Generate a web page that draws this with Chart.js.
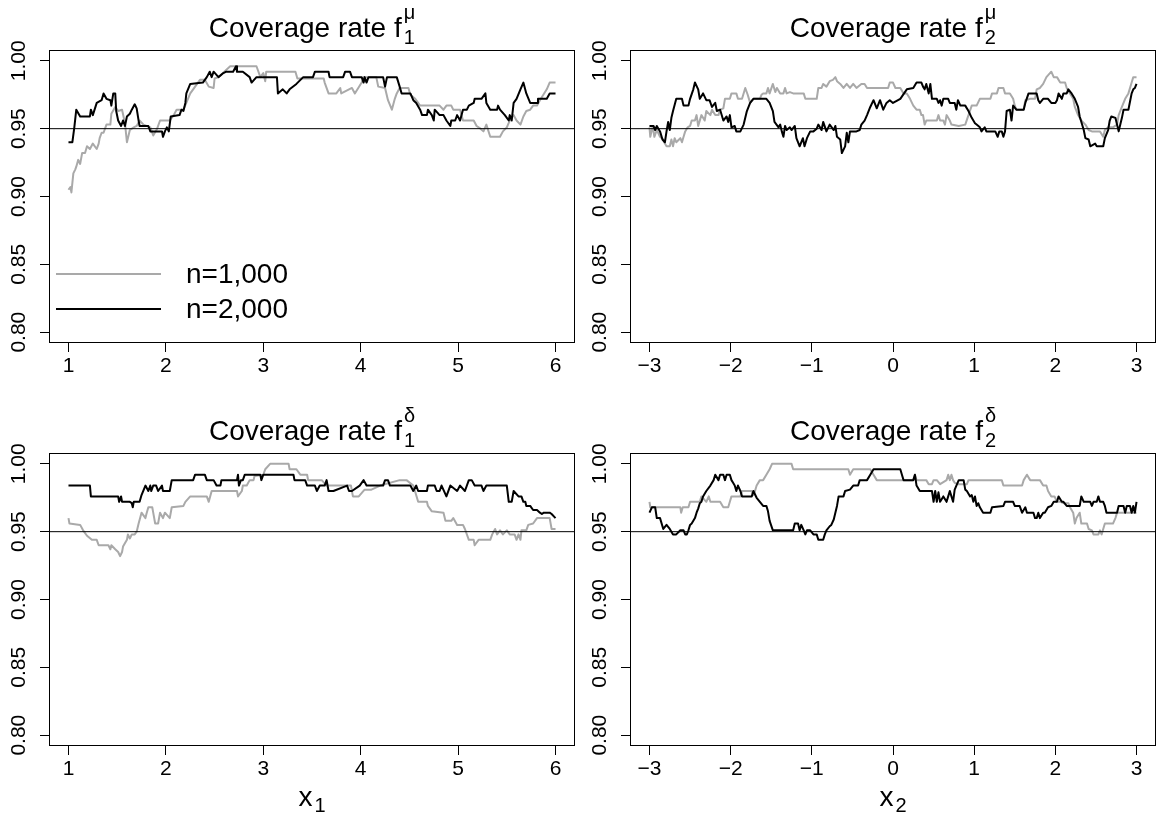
<!DOCTYPE html>
<html>
<head>
<meta charset="utf-8">
<script src="https://cdn.jsdelivr.net/npm/chart.js@4.4.0/dist/chart.umd.min.js"></script>
<style>
  html, body { margin: 0; padding: 0; background: #fff; }
  #page { position: relative; width: 1158px; height: 814px; overflow: hidden; }
  #page canvas { position: absolute; }
</style>
</head>
<body>
<div id="page">
  <canvas id="c1" width="579" height="411" style="left:0;top:0"></canvas>
  <canvas id="c2" width="579" height="411" style="left:581px;top:0"></canvas>
  <canvas id="c3" width="579" height="411" style="left:0;top:403px"></canvas>
  <canvas id="c4" width="579" height="411" style="left:581px;top:403px"></canvas>
</div>
<script>
// ---- data: [x, coverage rate] ----
const seriesLabels = ['n=1,000', 'n=2,000'];
const yTicks = [0.80, 0.85, 0.90, 0.95, 1.00];
const x1Ticks = [1, 2, 3, 4, 5, 6];
const x2Ticks = [-3, -2, -1, 0, 1, 2, 3];
const yRange = [0.80, 1.00];
const x1Range = [1, 6];
const x2Range = [-3, 3];
const refLevel = 0.95;

// f1 mu
const mu1N1000 = [[1.00,.905],[1.02,.907],[1.03,.903],[1.05,.917],[1.07,.920],[1.08,.922],[1.10,.927],[1.12,.924],[1.14,.932],[1.17,.932],[1.19,.937],[1.22,.935],[1.25,.939],[1.29,.935],[1.31,.939],[1.32,.943],[1.34,.947],[1.36,.947],[1.39,.953],[1.43,.953],[1.44,.961],[1.48,.966],[1.51,.963],[1.55,.964],[1.58,.954],[1.60,.940],[1.63,.949],[1.67,.951],[1.70,.952],[1.73,.956],[1.77,.953],[1.84,.951],[1.87,.945],[1.91,.950],[1.94,.956],[2.04,.956],[2.08,.960],[2.11,.964],[2.18,.964],[2.21,.969],[2.25,.976],[2.28,.979],[2.32,.983],[2.35,.986],[2.40,.986],[2.44,.981],[2.49,.980],[2.50,.987],[2.54,.988],[2.66,.996],[2.93,.996],[2.97,.988],[3.00,.991],[3.02,.985],[3.03,.992],[3.33,.992],[3.35,.987],[3.62,.987],[3.63,.984],[3.67,.976],[3.75,.976],[3.79,.980],[3.80,.976],[3.91,.980],[3.94,.976],[4.01,.984],[4.03,.988],[4.16,.988],[4.18,.981],[4.25,.980],[4.28,.971],[4.32,.964],[4.35,.972],[4.37,.976],[4.40,.980],[4.49,.980],[4.51,.975],[4.56,.972],[4.61,.967],[4.81,.967],[4.85,.964],[4.88,.967],[4.93,.967],[4.95,.964],[5.02,.964],[5.05,.956],[5.16,.956],[5.19,.952],[5.23,.950],[5.26,.948],[5.29,.953],[5.33,.944],[5.43,.944],[5.46,.948],[5.50,.951],[5.53,.956],[5.57,.960],[5.60,.956],[5.64,.953],[5.67,.959],[5.70,.963],[5.74,.964],[5.77,.967],[5.81,.967],[5.84,.971],[5.91,.979],[5.94,.984],[6.00,.984]];
const mu1N2000 = [[1.00,.940],[1.04,.940],[1.06,.951],[1.08,.964],[1.12,.959],[1.22,.959],[1.23,.964],[1.25,.960],[1.29,.969],[1.34,.971],[1.36,.976],[1.39,.972],[1.43,.971],[1.44,.967],[1.46,.976],[1.48,.976],[1.49,.963],[1.51,.956],[1.54,.952],[1.56,.956],[1.58,.952],[1.60,.959],[1.63,.961],[1.65,.964],[1.68,.968],[1.70,.965],[1.72,.956],[1.73,.952],[1.82,.952],[1.84,.948],[1.96,.948],[1.97,.944],[1.99,.948],[2.01,.951],[2.03,.948],[2.05,.959],[2.14,.960],[2.16,.964],[2.18,.963],[2.20,.969],[2.21,.976],[2.25,.983],[2.38,.984],[2.42,.988],[2.45,.992],[2.47,.988],[2.49,.992],[2.54,.988],[2.59,.991],[2.62,.992],[2.69,.992],[2.72,.996],[2.73,.992],[2.79,.992],[2.86,.988],[2.88,.984],[2.93,.988],[3.14,.988],[3.15,.976],[3.20,.979],[3.24,.976],[3.27,.979],[3.34,.983],[3.41,.988],[3.51,.988],[3.53,.992],[3.67,.992],[3.68,.988],[3.82,.988],[3.84,.992],[3.89,.992],[3.91,.988],[4.01,.988],[4.03,.984],[4.04,.988],[4.06,.984],[4.08,.988],[4.23,.988],[4.25,.981],[4.27,.988],[4.37,.988],[4.40,.981],[4.42,.976],[4.51,.976],[4.54,.971],[4.57,.969],[4.61,.964],[4.63,.960],[4.68,.960],[4.69,.964],[4.73,.960],[4.75,.956],[4.76,.964],[4.81,.960],[4.85,.960],[4.88,.956],[4.92,.952],[4.93,.956],[4.97,.956],[4.99,.960],[5.02,.956],[5.05,.964],[5.09,.964],[5.11,.967],[5.16,.969],[5.17,.972],[5.24,.972],[5.28,.976],[5.29,.969],[5.33,.964],[5.40,.964],[5.41,.967],[5.43,.964],[5.48,.960],[5.52,.956],[5.53,.960],[5.55,.956],[5.57,.969],[5.60,.972],[5.64,.979],[5.67,.984],[5.70,.976],[5.74,.969],[5.81,.969],[5.82,.972],[5.91,.972],[5.94,.976],[6.00,.976]];

// f2 mu
const mu2N1000 = [[-3.00,.951],[-2.99,.944],[-2.96,.952],[-2.94,.944],[-2.91,.949],[-2.87,.944],[-2.83,.942],[-2.81,.939],[-2.79,.937],[-2.75,.937],[-2.73,.942],[-2.71,.937],[-2.69,.943],[-2.67,.940],[-2.62,.943],[-2.60,.940],[-2.58,.944],[-2.56,.948],[-2.53,.951],[-2.50,.952],[-2.48,.956],[-2.44,.956],[-2.42,.960],[-2.40,.952],[-2.36,.960],[-2.32,.956],[-2.30,.963],[-2.25,.960],[-2.23,.964],[-2.19,.960],[-2.15,.960],[-2.13,.964],[-2.09,.965],[-2.07,.972],[-2.01,.972],[-1.99,.976],[-1.93,.976],[-1.91,.972],[-1.86,.972],[-1.82,.980],[-1.79,.975],[-1.76,.969],[-1.72,.972],[-1.64,.972],[-1.62,.975],[-1.60,.976],[-1.56,.976],[-1.54,.980],[-1.52,.976],[-1.48,.983],[-1.45,.977],[-1.43,.980],[-1.39,.976],[-1.35,.976],[-1.33,.980],[-1.31,.976],[-1.27,.977],[-1.23,.976],[-1.10,.976],[-1.08,.972],[-0.94,.972],[-0.92,.980],[-0.88,.980],[-0.86,.983],[-0.82,.981],[-0.78,.985],[-0.74,.986],[-0.71,.988],[-0.69,.985],[-0.65,.983],[-0.61,.980],[-0.57,.983],[-0.53,.980],[-0.49,.983],[-0.45,.980],[-0.39,.983],[-0.35,.983],[-0.32,.980],[-0.06,.980],[-0.04,.984],[0.00,.984],[0.03,.980],[0.09,.980],[0.13,.976],[0.17,.976],[0.21,.972],[0.25,.967],[0.29,.964],[0.33,.964],[0.35,.960],[0.37,.960],[0.39,.953],[0.41,.956],[0.54,.956],[0.56,.960],[0.58,.956],[0.62,.956],[0.64,.953],[0.66,.960],[0.70,.956],[0.72,.953],[0.81,.952],[0.89,.953],[0.93,.960],[0.97,.967],[1.03,.967],[1.07,.972],[1.20,.972],[1.22,.976],[1.28,.976],[1.30,.980],[1.36,.980],[1.38,.976],[1.44,.976],[1.48,.972],[1.50,.967],[1.52,.964],[1.61,.964],[1.63,.971],[1.69,.972],[1.75,.972],[1.77,.979],[1.81,.980],[1.85,.983],[1.89,.988],[1.95,.992],[1.98,.988],[2.02,.988],[2.06,.984],[2.12,.984],[2.14,.980],[2.18,.976],[2.22,.972],[2.24,.966],[2.28,.960],[2.32,.956],[2.37,.953],[2.41,.949],[2.45,.948],[2.55,.948],[2.59,.944],[2.61,.949],[2.65,.951],[2.71,.951],[2.76,.953],[2.78,.960],[2.82,.966],[2.86,.972],[2.90,.976],[2.94,.984],[2.96,.988],[3.00,.988]];
const mu2N2000 = [[-3.00,.952],[-2.95,.952],[-2.93,.949],[-2.91,.952],[-2.87,.948],[-2.84,.942],[-2.81,.940],[-2.79,.948],[-2.77,.955],[-2.75,.949],[-2.73,.958],[-2.71,.963],[-2.67,.972],[-2.60,.972],[-2.58,.967],[-2.52,.967],[-2.50,.972],[-2.46,.979],[-2.44,.984],[-2.40,.979],[-2.38,.972],[-2.34,.976],[-2.30,.971],[-2.26,.971],[-2.23,.966],[-2.19,.969],[-2.17,.963],[-2.13,.964],[-2.09,.956],[-2.05,.959],[-2.03,.955],[-2.01,.960],[-1.99,.951],[-1.95,.952],[-1.93,.948],[-1.88,.948],[-1.84,.953],[-1.80,.963],[-1.76,.969],[-1.72,.972],[-1.56,.972],[-1.52,.969],[-1.48,.963],[-1.46,.955],[-1.41,.951],[-1.39,.953],[-1.37,.948],[-1.35,.944],[-1.33,.952],[-1.31,.949],[-1.27,.951],[-1.25,.949],[-1.21,.952],[-1.19,.943],[-1.15,.937],[-1.11,.943],[-1.09,.937],[-1.06,.943],[-1.02,.948],[-0.98,.948],[-0.94,.950],[-0.92,.953],[-0.88,.949],[-0.86,.955],[-0.82,.948],[-0.78,.953],[-0.73,.949],[-0.71,.952],[-0.69,.944],[-0.65,.942],[-0.63,.932],[-0.59,.937],[-0.57,.947],[-0.55,.940],[-0.53,.948],[-0.45,.948],[-0.41,.949],[-0.39,.953],[-0.35,.956],[-0.32,.960],[-0.28,.966],[-0.24,.971],[-0.20,.965],[-0.16,.971],[-0.12,.964],[-0.08,.969],[-0.04,.971],[0.00,.969],[0.09,.972],[0.17,.979],[0.25,.980],[0.29,.984],[0.35,.984],[0.37,.981],[0.39,.979],[0.41,.983],[0.44,.976],[0.46,.983],[0.48,.972],[0.54,.972],[0.56,.969],[0.58,.971],[0.60,.967],[0.62,.972],[0.68,.972],[0.70,.969],[0.76,.969],[0.78,.964],[0.80,.971],[0.83,.967],[0.89,.967],[0.93,.963],[0.97,.958],[1.01,.954],[1.03,.953],[1.07,.951],[1.09,.948],[1.13,.951],[1.15,.948],[1.26,.948],[1.29,.944],[1.31,.948],[1.34,.948],[1.36,.944],[1.38,.948],[1.40,.963],[1.44,.964],[1.46,.956],[1.48,.967],[1.52,.964],[1.61,.964],[1.63,.969],[1.67,.976],[1.77,.976],[1.79,.971],[1.81,.969],[1.85,.972],[1.91,.972],[1.95,.969],[2.00,.969],[2.02,.971],[2.04,.976],[2.08,.972],[2.10,.976],[2.14,.976],[2.16,.979],[2.20,.976],[2.24,.972],[2.28,.966],[2.30,.959],[2.35,.949],[2.37,.943],[2.41,.942],[2.43,.937],[2.49,.939],[2.51,.937],[2.59,.937],[2.61,.943],[2.65,.949],[2.67,.956],[2.69,.959],[2.74,.958],[2.76,.953],[2.78,.948],[2.80,.953],[2.82,.958],[2.84,.964],[2.90,.964],[2.92,.970],[2.94,.976],[2.96,.979],[2.98,.980],[3.00,.983]];

// f1 delta
const de1N1000 = [[1.00,.960],[1.01,.956],[1.12,.955],[1.15,.951],[1.19,.947],[1.24,.944],[1.29,.944],[1.31,.940],[1.41,.940],[1.43,.937],[1.44,.940],[1.48,.937],[1.51,.935],[1.53,.932],[1.55,.935],[1.56,.939],[1.60,.944],[1.61,.948],[1.63,.945],[1.65,.948],[1.68,.948],[1.70,.950],[1.72,.956],[1.75,.964],[1.79,.960],[1.80,.963],[1.82,.968],[1.86,.968],[1.87,.964],[1.89,.956],[1.92,.956],[1.94,.964],[1.97,.960],[1.99,.964],[2.04,.960],[2.06,.968],[2.18,.969],[2.20,.972],[2.25,.976],[2.42,.976],[2.44,.972],[2.47,.980],[2.73,.980],[2.74,.976],[2.78,.980],[2.79,.984],[2.83,.984],[2.86,.988],[2.90,.988],[2.91,.991],[3.00,.992],[3.02,.996],[3.07,1.000],[3.26,1.000],[3.27,.996],[3.34,.996],[3.38,.992],[3.45,.992],[3.46,.988],[3.60,.988],[3.65,.984],[3.90,.984],[3.92,.976],[3.98,.976],[4.04,.981],[4.11,.981],[4.20,.984],[4.40,.988],[4.47,.988],[4.54,.984],[4.59,.972],[4.68,.972],[4.69,.969],[4.73,.965],[4.85,.964],[4.87,.958],[4.93,.958],[4.95,.960],[4.99,.955],[5.05,.955],[5.07,.952],[5.11,.944],[5.16,.944],[5.17,.940],[5.21,.944],[5.33,.944],[5.35,.948],[5.38,.952],[5.40,.948],[5.43,.951],[5.46,.948],[5.50,.951],[5.53,.948],[5.58,.948],[5.60,.944],[5.62,.948],[5.64,.944],[5.65,.951],[5.70,.951],[5.72,.955],[5.77,.956],[5.81,.960],[5.94,.960],[5.96,.952],[6.00,.952]];
const de1N2000 = [[1.00,.984],[1.22,.984],[1.23,.976],[1.51,.976],[1.52,.972],[1.54,.976],[1.55,.972],[1.60,.972],[1.63,.972],[1.65,.971],[1.66,.968],[1.67,.972],[1.70,.972],[1.73,.972],[1.75,.977],[1.79,.984],[1.82,.980],[1.84,.984],[1.85,.980],[1.87,.984],[1.90,.984],[1.92,.980],[1.96,.984],[1.97,.980],[2.04,.980],[2.06,.988],[2.28,.988],[2.30,.992],[2.40,.992],[2.42,.988],[2.49,.988],[2.52,.984],[2.56,.984],[2.57,.988],[2.73,.988],[2.74,.992],[2.75,.984],[2.77,.988],[2.79,.988],[2.81,.992],[2.97,.992],[2.98,.988],[3.00,.992],[3.31,.992],[3.32,.988],[3.43,.988],[3.45,.984],[3.53,.984],[3.55,.980],[3.58,.984],[3.63,.984],[3.65,.988],[3.67,.980],[3.72,.980],[3.86,.984],[3.88,.980],[3.91,.980],[3.99,.984],[4.03,.988],[4.06,.984],[4.23,.984],[4.25,.988],[4.28,.988],[4.30,.984],[4.51,.984],[4.54,.980],[4.57,.984],[4.59,.980],[4.68,.980],[4.69,.984],[4.76,.984],[4.78,.980],[4.81,.980],[4.83,.984],[4.88,.976],[4.92,.984],[4.99,.980],[5.02,.984],[5.07,.980],[5.11,.988],[5.14,.988],[5.17,.984],[5.24,.984],[5.26,.980],[5.29,.984],[5.50,.984],[5.52,.972],[5.55,.972],[5.57,.980],[5.62,.976],[5.65,.976],[5.67,.972],[5.69,.972],[5.70,.969],[5.74,.969],[5.77,.966],[5.81,.966],[5.84,.964],[5.86,.963],[5.88,.964],[5.94,.964],[5.96,.963],[6.00,.960]];

// f2 delta
const de2N1000 = [[-3.00,.972],[-2.99,.968],[-2.62,.968],[-2.61,.964],[-2.59,.968],[-2.52,.968],[-2.50,.972],[-2.38,.972],[-2.36,.976],[-2.30,.972],[-2.27,.976],[-2.25,.972],[-2.13,.972],[-2.09,.968],[-2.03,.968],[-2.01,.972],[-1.99,.976],[-1.88,.976],[-1.86,.980],[-1.74,.980],[-1.72,.977],[-1.70,.980],[-1.68,.984],[-1.64,.988],[-1.60,.988],[-1.56,.992],[-1.52,.996],[-1.49,1.000],[-1.25,1.000],[-1.23,.996],[-0.55,.996],[-0.53,.992],[-0.49,.996],[-0.28,.996],[-0.24,.992],[-0.20,.988],[0.25,.988],[0.27,.992],[0.29,.988],[0.41,.988],[0.44,.985],[0.48,.985],[0.50,.988],[0.54,.988],[0.58,.985],[0.66,.988],[0.68,.992],[0.70,.988],[0.72,.992],[0.74,.988],[0.76,.986],[0.81,.985],[0.91,.985],[0.93,.988],[1.34,.988],[1.36,.984],[1.59,.984],[1.61,.988],[1.65,.992],[1.69,.988],[1.81,.988],[1.85,.984],[1.89,.984],[1.91,.980],[1.95,.976],[1.99,.976],[2.02,.972],[2.06,.972],[2.10,.971],[2.16,.971],[2.18,.968],[2.22,.964],[2.24,.956],[2.26,.960],[2.30,.964],[2.32,.956],[2.39,.956],[2.41,.952],[2.45,.951],[2.47,.948],[2.53,.948],[2.55,.951],[2.57,.948],[2.59,.952],[2.61,.956],[2.71,.956],[2.74,.960],[2.76,.964],[3.00,.964]];
const de2N2000 = [[-3.00,.964],[-2.97,.968],[-2.93,.968],[-2.91,.960],[-2.87,.960],[-2.83,.952],[-2.79,.955],[-2.75,.952],[-2.71,.948],[-2.67,.948],[-2.62,.951],[-2.58,.951],[-2.56,.948],[-2.54,.948],[-2.52,.951],[-2.50,.955],[-2.48,.956],[-2.44,.960],[-2.42,.964],[-2.40,.967],[-2.38,.971],[-2.36,.972],[-2.34,.976],[-2.30,.980],[-2.25,.984],[-2.21,.988],[-2.19,.992],[-2.15,.988],[-2.13,.992],[-2.09,.992],[-2.07,.988],[-2.05,.992],[-2.01,.992],[-1.99,.988],[-1.97,.986],[-1.95,.984],[-1.93,.980],[-1.91,.984],[-1.88,.980],[-1.86,.976],[-1.74,.976],[-1.72,.980],[-1.68,.975],[-1.64,.972],[-1.60,.969],[-1.56,.969],[-1.54,.965],[-1.52,.958],[-1.48,.951],[-1.23,.951],[-1.21,.956],[-1.17,.956],[-1.15,.951],[-1.13,.955],[-1.10,.951],[-1.08,.948],[-1.06,.951],[-1.02,.951],[-0.98,.948],[-0.94,.948],[-0.92,.944],[-0.86,.944],[-0.84,.948],[-0.82,.951],[-0.78,.954],[-0.76,.955],[-0.73,.959],[-0.69,.969],[-0.67,.976],[-0.61,.976],[-0.59,.980],[-0.53,.981],[-0.49,.984],[-0.43,.984],[-0.41,.988],[-0.32,.988],[-0.28,.992],[-0.24,.996],[0.09,.996],[0.11,.992],[0.13,.988],[0.25,.988],[0.27,.992],[0.29,.984],[0.33,.980],[0.48,.980],[0.50,.972],[0.52,.980],[0.54,.972],[0.56,.979],[0.58,.972],[0.62,.976],[0.66,.972],[0.68,.976],[0.70,.980],[0.72,.976],[0.74,.972],[0.76,.981],[0.81,.988],[0.87,.988],[0.89,.981],[0.91,.980],[0.95,.976],[0.97,.977],[0.99,.972],[1.01,.976],[1.03,.969],[1.05,.971],[1.07,.968],[1.11,.964],[1.20,.964],[1.22,.968],[1.36,.969],[1.38,.972],[1.48,.972],[1.50,.969],[1.56,.969],[1.59,.964],[1.63,.968],[1.65,.964],[1.73,.964],[1.75,.960],[1.77,.960],[1.79,.964],[1.81,.960],[1.85,.964],[1.87,.964],[1.91,.968],[1.95,.969],[1.98,.972],[2.02,.972],[2.04,.976],[2.08,.972],[2.10,.972],[2.14,.969],[2.30,.969],[2.32,.976],[2.35,.972],[2.43,.972],[2.45,.969],[2.47,.972],[2.51,.972],[2.53,.976],[2.55,.972],[2.59,.972],[2.61,.969],[2.63,.964],[2.76,.964],[2.78,.969],[2.84,.969],[2.86,.964],[2.88,.969],[2.92,.969],[2.94,.964],[2.96,.969],[2.98,.964],[3.00,.972]];

// ---- drawing ----
const FONT = '"Liberation Sans", Arial, Helvetica, sans-serif';
const GRAY = '#a9a9a9';
const BOX_LEFT = 49, BOX_TOP = 50, BOX_BOTTOM = 343, PAD_RIGHT = 4;
const BIG = 28, TICK = 21;

function pts(arr) { return arr.map(p => ({ x: p[0], y: p[1] })); }
function fmtTick(v) { return v < 0 ? '\u2212' + Math.abs(v) : String(v); }

// box around the plot region
const boxPlugin = {
  id: 'rBox',
  afterDraw(chart) {
    const a = chart.chartArea, ctx = chart.ctx;
    ctx.save();
    ctx.strokeStyle = '#000';
    ctx.lineWidth = 1;
    ctx.strokeRect(Math.round(a.left) + 0.5, Math.round(a.top) + 0.5,
                   Math.round(a.right - a.left) - 1, Math.round(a.bottom - a.top) - 1);
    ctx.restore();
  }
};

// title and x label with sub/superscripts, R plotmath style
const mathTextPlugin = {
  id: 'rMath',
  afterDraw(chart, args, opts) {
    const ctx = chart.ctx, a = chart.chartArea;
    const cx = (a.left + a.right) / 2;
    function put(main, sub, sup, size, base, subDy, supDy) {
      ctx.font = size + 'px ' + FONT;
      const wMain = ctx.measureText(main).width;
      const small = Math.round(size * 0.7);
      ctx.font = small + 'px ' + FONT;
      const wSub = sub ? ctx.measureText(sub).width : 0;
      const wSup = sup ? ctx.measureText(sup).width : 0;
      const gap = 2;
      const x0 = cx - (wMain + gap + Math.max(wSub, wSup)) / 2;
      ctx.font = size + 'px ' + FONT;
      ctx.fillText(main, x0, base);
      ctx.font = small + 'px ' + FONT;
      if (sub) ctx.fillText(sub, x0 + wMain + gap, base + subDy);
      if (sup) ctx.fillText(sup, x0 + wMain + gap, base - supDy);
    }
    ctx.save();
    ctx.fillStyle = '#000';
    ctx.textAlign = 'left';
    ctx.textBaseline = 'alphabetic';
    put(opts.title[0], opts.title[1], opts.title[2], BIG, 37, 7, 18);
    if (opts.xlab) put(opts.xlab[0], opts.xlab[1], null, BIG, a.bottom + 60, 6, 0);
    ctx.restore();
  }
};

// legend with no box, drawn inside the first panel
const legendPlugin = {
  id: 'rLegend',
  afterDraw(chart, args, opts) {
    if (!opts.show) return;
    const ctx = chart.ctx, a = chart.chartArea;
    const rows = [2, 1];   // dataset indices: n=1,000 then n=2,000
    ctx.save();
    ctx.font = BIG + 'px ' + FONT;
    ctx.textAlign = 'left';
    ctx.textBaseline = 'middle';
    rows.forEach((di, i) => {
      const ds = chart.data.datasets[di];
      const y = a.top + 224 + i * 35;
      ctx.strokeStyle = ds.borderColor;
      ctx.lineWidth = ds.borderWidth;
      ctx.beginPath();
      ctx.moveTo(a.left + 7, y);
      ctx.lineTo(a.left + 112, y);
      ctx.stroke();
      ctx.fillStyle = '#000';
      ctx.fillText(ds.label, a.left + 137, y + 1);
    });
    ctx.restore();
  }
};

function makeChart(id, n1000, n2000, xRange, xTicks, title, xlab, legend) {
  const canvas = document.getElementById(id);
  const H = canvas.height;
  const xPad = (xRange[1] - xRange[0]) * 0.04;
  const yPad = (yRange[1] - yRange[0]) * 0.04;
  const tickFont = { family: FONT, size: TICK };
  return new Chart(canvas.getContext('2d'), {
    type: 'line',
    data: {
      datasets: [
        { label: 'ref', data: [{ x: xRange[0] - xPad, y: refLevel }, { x: xRange[1] + xPad, y: refLevel }],
          borderColor: '#000', borderWidth: 1, pointRadius: 0 },
        { label: seriesLabels[1], data: pts(n2000), borderColor: '#000', borderWidth: 2, pointRadius: 0 },
        { label: seriesLabels[0], data: pts(n1000), borderColor: GRAY, borderWidth: 2, pointRadius: 0 }
      ]
    },
    options: {
      responsive: false,
      animation: false,
      events: [],
      layout: { padding: { top: BOX_TOP, right: PAD_RIGHT, left: 0, bottom: 0 } },
      elements: { line: { tension: 0, borderJoinStyle: 'round', borderCapStyle: 'butt' } },
      plugins: {
        legend: { display: false },
        title: { display: false },
        tooltip: { enabled: false },
        rMath: { title: title, xlab: xlab },
        rLegend: { show: legend }
      },
      scales: {
        x: {
          type: 'linear',
          min: xRange[0] - xPad,
          max: xRange[1] + xPad,
          afterBuildTicks: s => { s.ticks = xTicks.map(v => ({ value: v })); },
          afterFit: s => { s.height = H - BOX_BOTTOM; },
          border: { display: false },
          grid: { drawOnChartArea: false, drawTicks: true, tickLength: 9, color: '#000', lineWidth: 1 },
          ticks: { color: '#000', font: tickFont, padding: 2, autoSkip: false, maxRotation: 0, minRotation: 0,
                   callback: v => fmtTick(v) }
        },
        y: {
          type: 'linear',
          min: yRange[0] - yPad,
          max: yRange[1] + yPad,
          afterBuildTicks: s => { s.ticks = yTicks.map(v => ({ value: v })); },
          afterFit: s => { s.width = BOX_LEFT; },
          border: { display: false },
          grid: { drawOnChartArea: false, drawTicks: true, tickLength: 9, color: '#000', lineWidth: 1 },
          ticks: { color: '#000', font: tickFont, padding: 0, autoSkip: false, minRotation: 90, maxRotation: 90,
                   crossAlign: 'center', callback: v => v.toFixed(2) }
        }
      }
    },
    plugins: [boxPlugin, mathTextPlugin, legendPlugin]
  });
}

makeChart('c1', mu1N1000, mu1N2000, x1Range, x1Ticks, ['Coverage rate f', '1', '\u03bc'], null, true);
makeChart('c2', mu2N1000, mu2N2000, x2Range, x2Ticks, ['Coverage rate f', '2', '\u03bc'], null, false);
makeChart('c3', de1N1000, de1N2000, x1Range, x1Ticks, ['Coverage rate f', '1', '\u03b4'], ['x', '1'], false);
makeChart('c4', de2N1000, de2N2000, x2Range, x2Ticks, ['Coverage rate f', '2', '\u03b4'], ['x', '2'], false);
</script>
</body>
</html>
